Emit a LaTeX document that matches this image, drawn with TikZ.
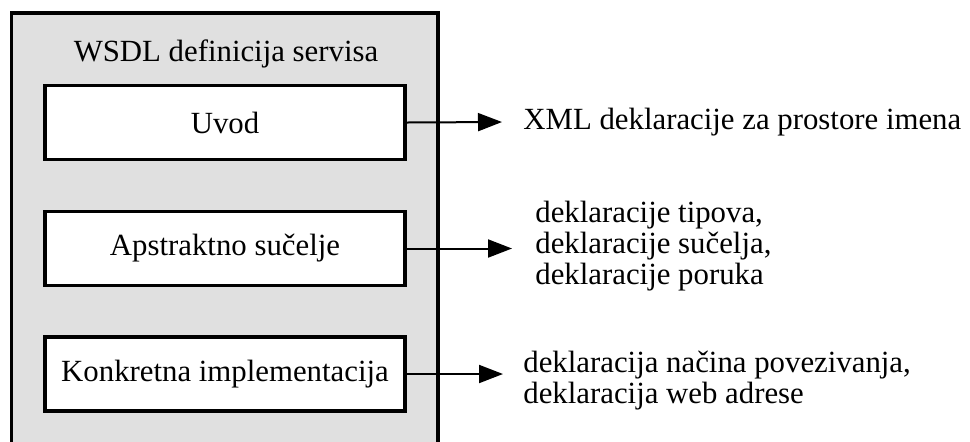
\documentclass[tikz,border=0pt]{standalone}
\usepackage{fontspec}
\setmainfont{Liberation Serif}
\usepackage{tikz}
\usetikzlibrary{arrows.meta,calc}

\definecolor{panelgray}{HTML}{E0E0E0}
\tikzset{
  partbox/.style={draw, line width=1.7pt, fill=white, minimum width=180pt, minimum height=37pt, inner sep=0pt},
  note/.style={anchor=west, align=left, inner sep=0pt},
  link/.style={line width=1pt, -{Triangle[length=12pt,width=9pt]}}
}

\begin{document}
\begin{tikzpicture}[x=0.5pt, y=-0.5pt, font=\fontsize{15.4}{15.5}\selectfont]
  \useasboundingbox (0,0) rectangle (970,441);
  % outer WSDL box, open at the bottom
  \fill[panelgray] (11.5,13) rectangle (438,460);
  \draw[line width=1.6pt] (11.5,460) -- (11.5,13) -- (438,13) -- (438,460);
  \node (wsdl) at (226,54) {WSDL definicija servisa};

  \node[partbox] (uvod) at (225,122.5) {Uvod};
  \node[partbox] (aps)  at (225,248.5) {Apstraktno sučelje};
  \node[partbox] (kon)  at (225,374)   {Konkretna implementacija};

  \node[note] (xml) at (523,122) {XML deklaracije za prostore imena};
  \node[note] (tip) at (535,246) {deklaracije tipova,\\deklaracije sučelja,\\deklaracije poruka};
  \node[note] (adr) at (523,381) {deklaracija načina povezivanja,\\deklaracija web adrese};

  \coordinate (e1) at (502,122);
  \coordinate (e2) at (512,248.5);
  \coordinate (e3) at (503,374);
  \draw[link] (uvod.east) -- (e1);
  \draw[link] (aps.east)  -- (e2);
  \draw[link] (kon.east)  -- (e3);
\end{tikzpicture}
\end{document}
